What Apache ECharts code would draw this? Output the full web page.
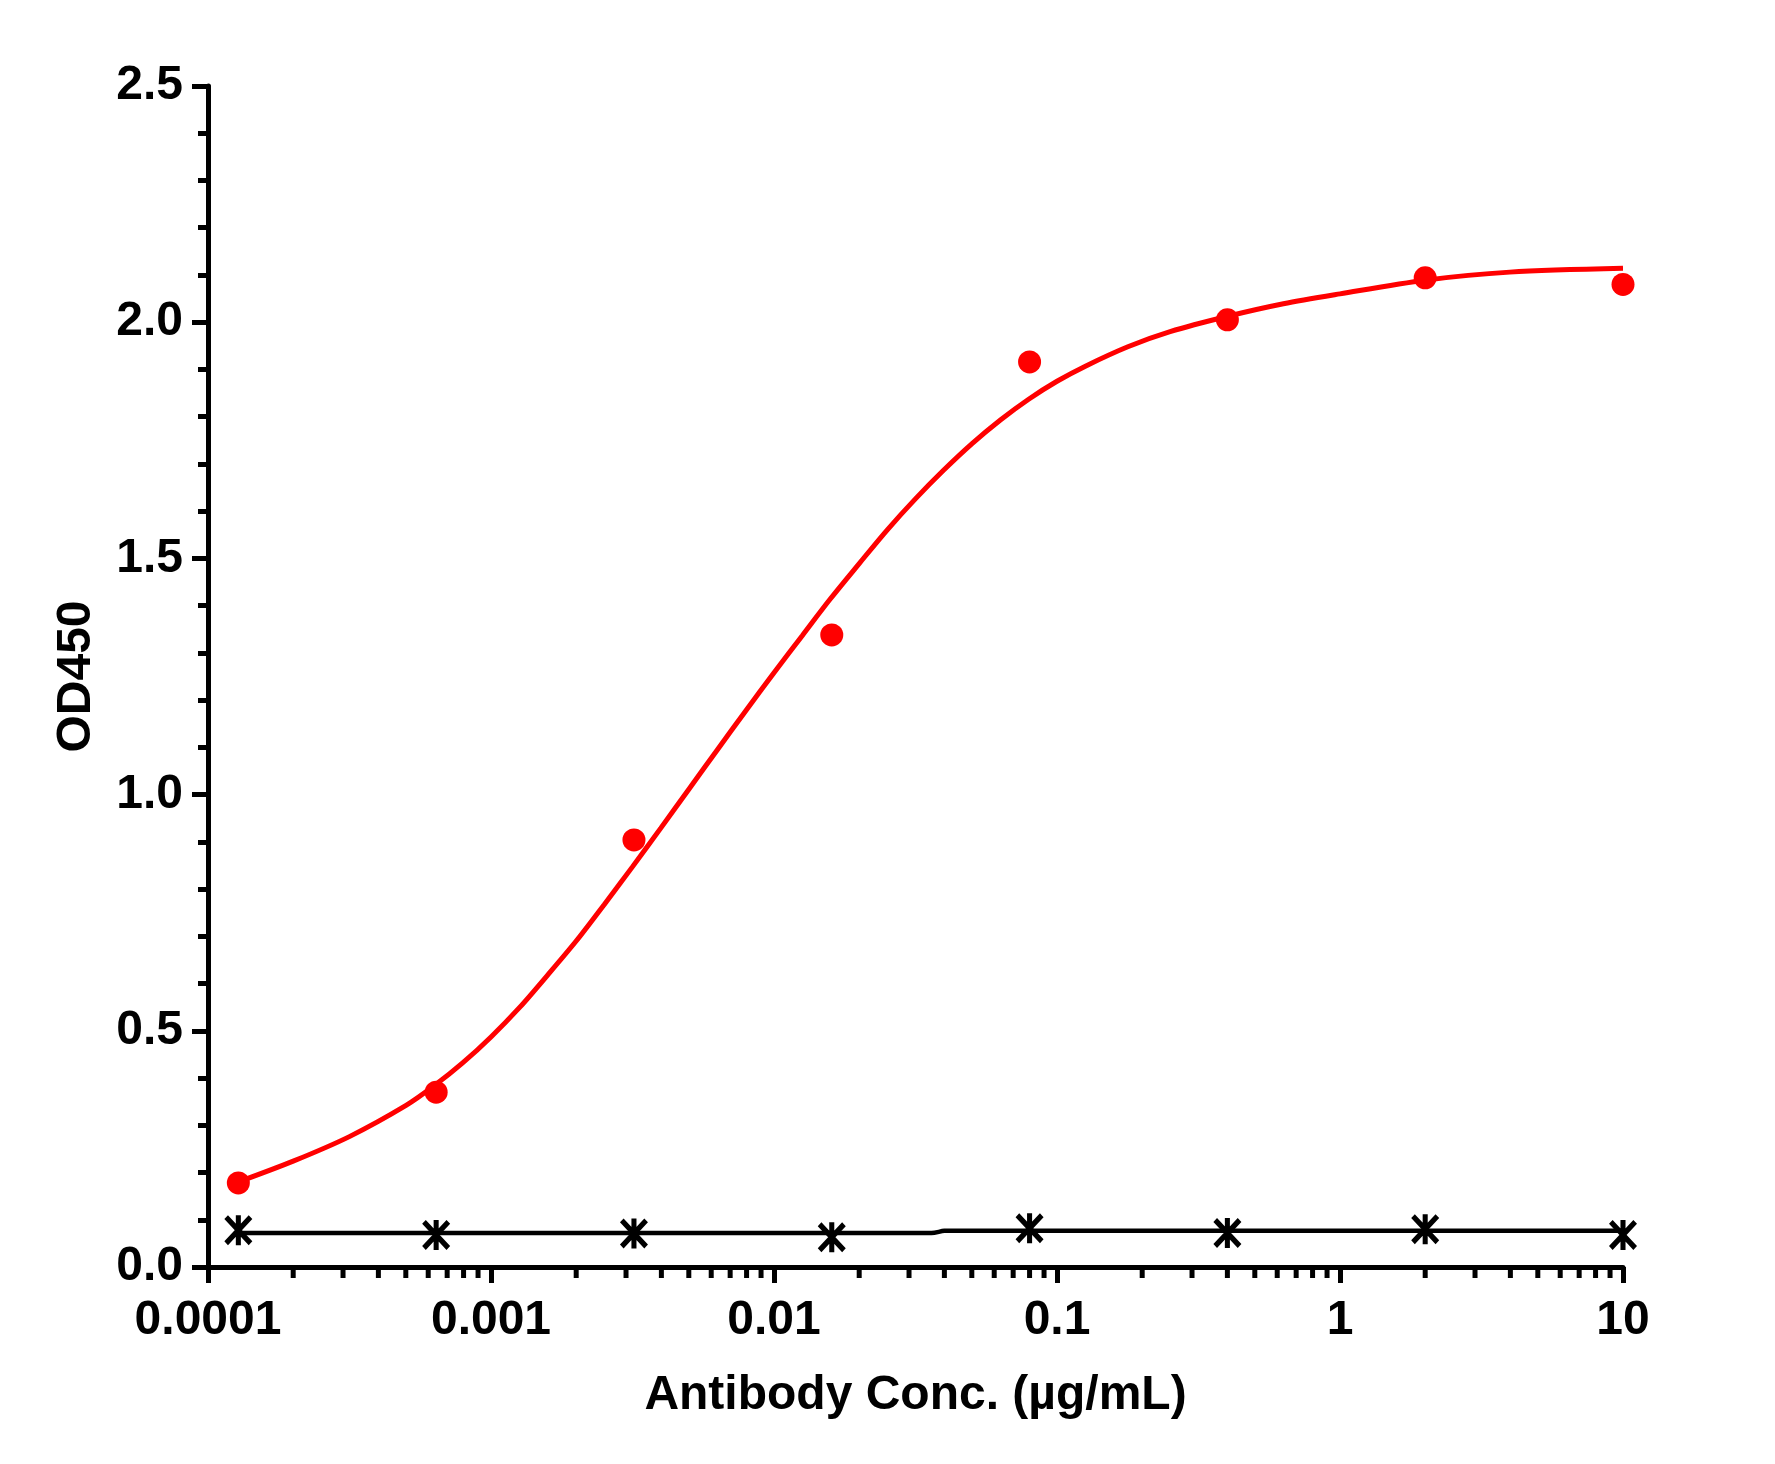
<!DOCTYPE html>
<html>
<head>
<meta charset="utf-8">
<script src="https://cdn.jsdelivr.net/npm/echarts@6/dist/echarts.min.js"></script>
<style>
html,body{margin:0;padding:0;background:#fff;}
#chart{width:1775px;height:1464px;}
</style>
</head>
<body>
<div id="chart"></div>
<script>
// ---- data ----
const conc = [0.000128, 0.00064, 0.0032, 0.016, 0.08, 0.4, 2, 10];
const odSample = [0.178, 0.370, 0.904, 1.338, 1.916, 2.005, 2.094, 2.080];
const odControl = [0.078, 0.068, 0.071, 0.063, 0.082, 0.072, 0.080, 0.068];

// fitted curve of the sample
const fitConc = [0.000128, 0.0002, 0.000316, 0.000501, 0.000631, 0.000794, 0.001, 0.00126, 0.00158, 0.002, 0.00251, 0.00316, 0.00398, 0.00501, 0.00631, 0.00794, 0.01, 0.0126, 0.0158, 0.02, 0.0251, 0.0316, 0.0398, 0.0501, 0.0631, 0.0794, 0.1, 0.126, 0.178, 0.251, 0.398, 0.631, 1.0, 2.0, 3.98, 10];
const fitOD   = [0.180, 0.224, 0.276, 0.342, 0.384, 0.432, 0.487, 0.549, 0.617, 0.690, 0.767, 0.847, 0.929, 1.012, 1.095, 1.177, 1.258, 1.337, 1.414, 1.489, 1.560, 1.626, 1.687, 1.743, 1.793, 1.837, 1.875, 1.907, 1.948, 1.980, 2.012, 2.039, 2.060, 2.089, 2.106, 2.114];

// fitted line of the control
const ctrlFitConc = [0.000128, 0.036, 0.040, 0.043, 10];
const ctrlFitOD   = [0.072, 0.072, 0.0765, 0.077, 0.077];

// x-axis tick labels and minor tick positions
const xTickLabels = {'-4':'0.0001','-3':'0.001','-2':'0.01','-1':'0.1','0':'1','1':'10'};
const xMinorTicks = [];
[0.0001, 0.001, 0.01, 0.1, 1].forEach(function (d) {
  [2,3,4,5,6,7,8,9].forEach(function (m) { xMinorTicks.push(+(d * m).toPrecision(3)); });
});

const FONT = '"Liberation Sans", Arial, sans-serif';
const zip = (a, b) => a.map((v, i) => [v, b[i]]);

const asterisk = 'path://M41 0L59 0L59 100L41 100Z M0 13L13 0L100 87L87 100Z M87 0L100 13L13 100L0 87Z';

const chart = echarts.init(document.getElementById('chart'));
chart.setOption({
  backgroundColor: '#fff',
  animation: false,
  grid: {left: 208, right: 152, top: 86, bottom: 197},
  xAxis: {
    type: 'log',
    logBase: 10,
    min: 0.0001,
    max: 10,
    name: 'Antibody Conc. (µg/mL)',
    nameLocation: 'middle',
    nameGap: 105,
    nameTextStyle: {fontFamily: FONT, fontWeight: 'bold', fontSize: 48, color: '#000'},
    axisLine: {onZero: false, lineStyle: {color: '#000', width: 5}},
    axisTick: {inside: false, length: 16, lineStyle: {color: '#000', width: 5}},
    minorTick: {show: false},
    splitLine: {show: false},
    axisLabel: {
      margin: 30,
      fontFamily: FONT, fontWeight: 'bold', fontSize: 48, color: '#000',
      formatter: function (v) {
        const k = String(Math.round(Math.log10(v)));
        return xTickLabels[k] !== undefined ? xTickLabels[k] : '';
      }
    }
  },
  yAxis: {
    type: 'value',
    min: 0,
    max: 2.5,
    interval: 0.5,
    name: 'OD450',
    nameLocation: 'middle',
    nameGap: 107,
    nameRotate: 90,
    nameTextStyle: {fontFamily: FONT, fontWeight: 'bold', fontSize: 48, color: '#000'},
    axisLine: {show: true, lineStyle: {color: '#000', width: 5}},
    axisTick: {show: true, inside: false, length: 16, lineStyle: {color: '#000', width: 5}},
    minorTick: {show: true, splitNumber: 5, length: 10, lineStyle: {color: '#000', width: 5}},
    splitLine: {show: false},
    axisLabel: {
      margin: 25,
      fontFamily: FONT, fontWeight: 'bold', fontSize: 48, color: '#000',
      formatter: function (v) { return v.toFixed(1); }
    }
  },
  series: [
    {
      type: 'custom',
      name: 'minorTicks',
      clip: false,
      silent: true,
      data: xMinorTicks.map(v => [v, 0]),
      renderItem: function (params, api) {
        const p = api.coord([api.value(0), 0]);
        return {
          type: 'line',
          shape: {x1: p[0], y1: p[1], x2: p[0], y2: p[1] + 11},
          style: {stroke: '#000', lineWidth: 5}
        };
      },
      z: 1
    },
    {
      type: 'line',
      name: 'ctrlFit',
      data: zip(ctrlFitConc, ctrlFitOD),
      showSymbol: false,
      smooth: 0.3,
      lineStyle: {color: '#000', width: 4.5},
      z: 3
    },
    {
      type: 'scatter',
      name: 'control',
      data: zip(conc, odControl),
      symbol: asterisk,
      symbolSize: [28, 30],
      itemStyle: {color: '#000', opacity: 1},
      z: 4
    },
    {
      type: 'line',
      name: 'sampleFit',
      data: zip(fitConc, fitOD),
      showSymbol: false,
      smooth: 0.3,
      lineStyle: {color: '#ff0000', width: 5},
      z: 5
    },
    {
      type: 'scatter',
      name: 'sample',
      data: zip(conc, odSample),
      symbol: 'circle',
      symbolSize: 23,
      itemStyle: {color: '#ff0000', opacity: 1},
      z: 6
    }
  ]
});
</script>
</body>
</html>
